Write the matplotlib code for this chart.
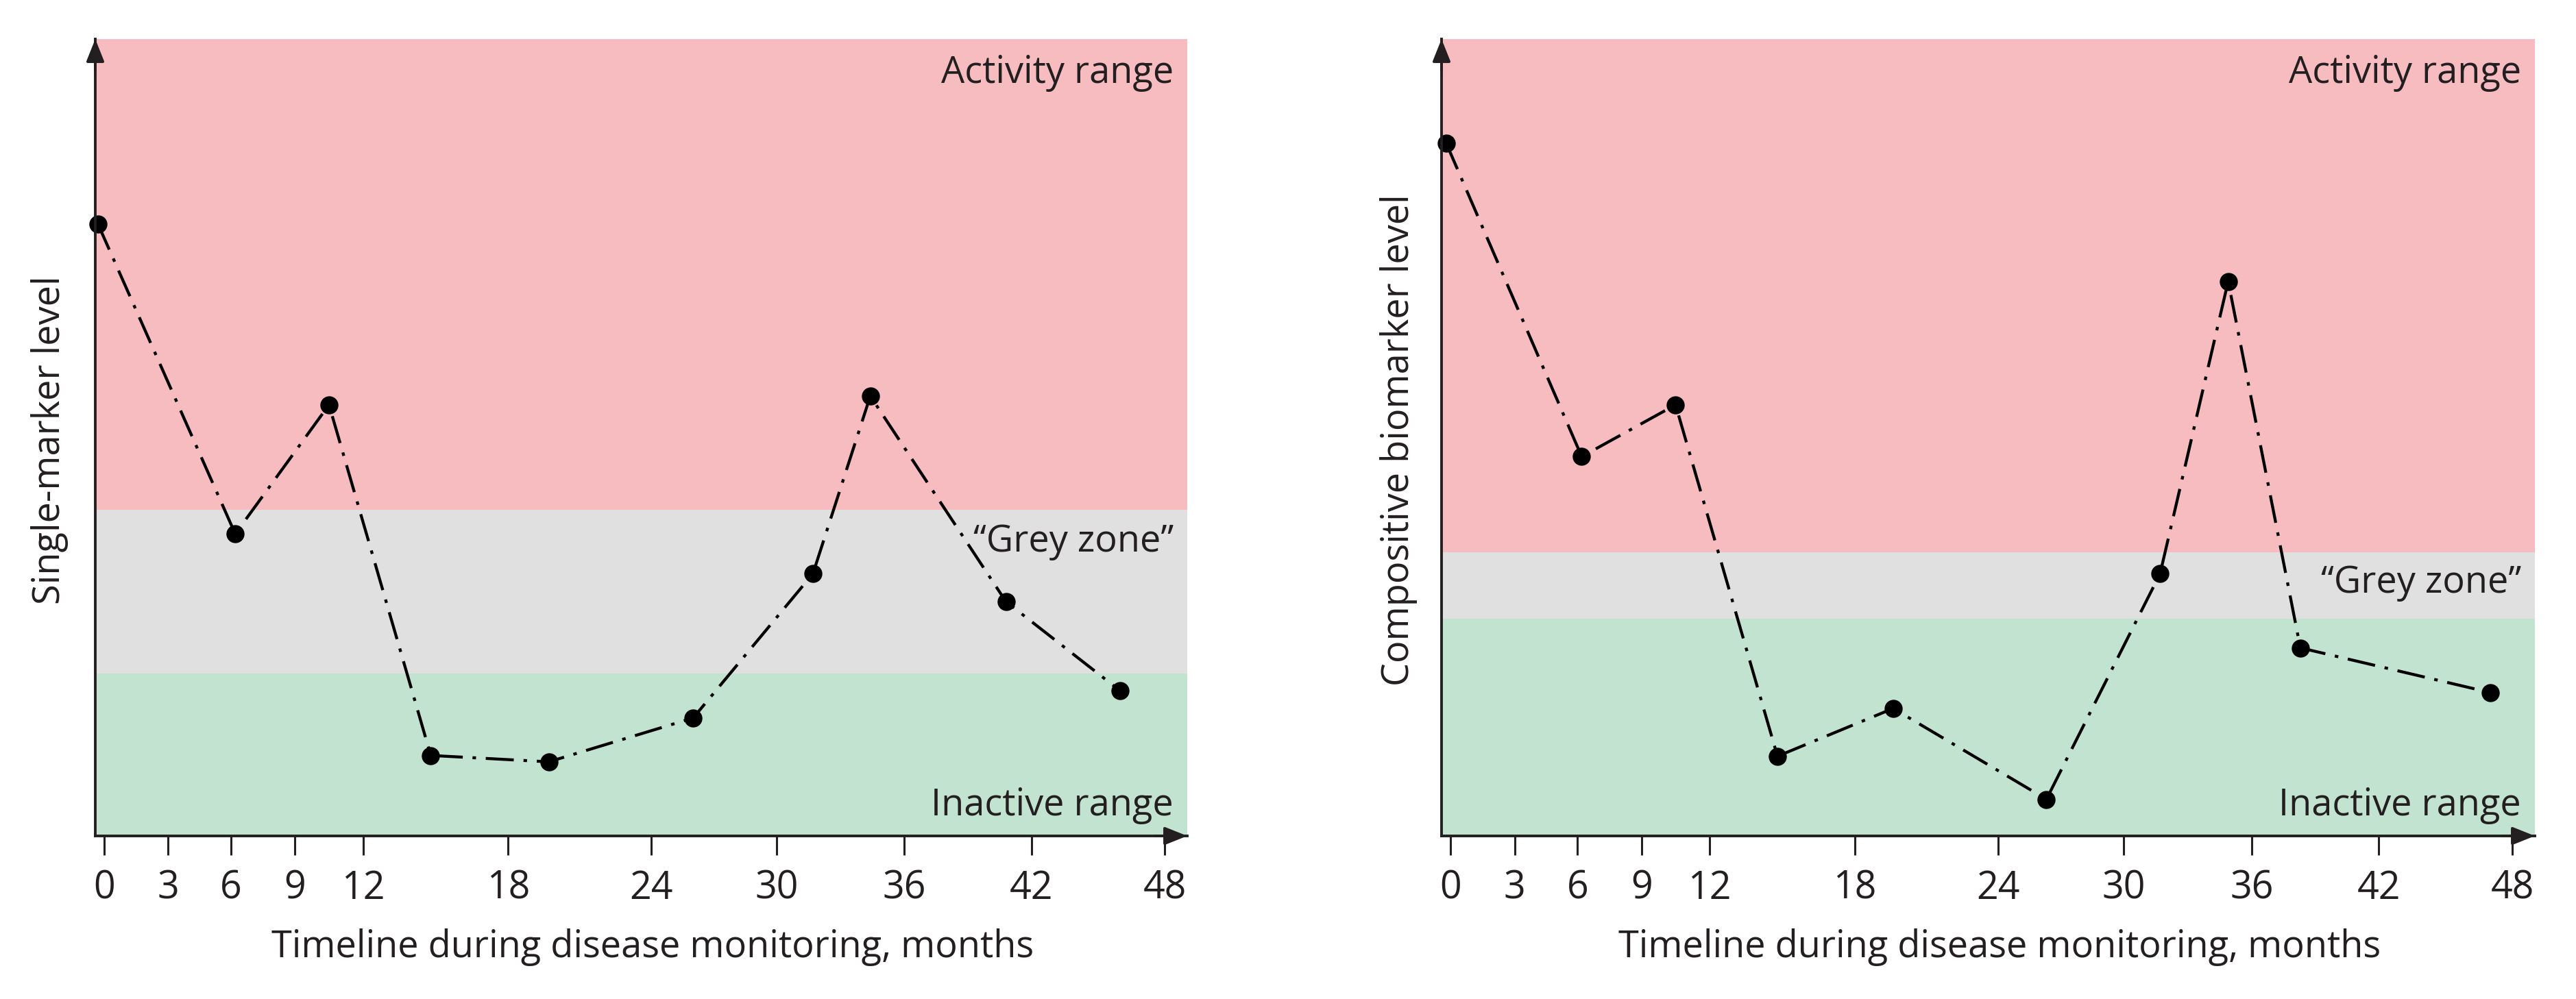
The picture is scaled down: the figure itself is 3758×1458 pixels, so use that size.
import numpy as np
import matplotlib
matplotlib.use("Agg")
import matplotlib.pyplot as plt

# ---------------- data ----------------
tick_months = [0, 3, 6, 9, 12, 18, 24, 30, 36, 42, 48]
tick_labels = ["0", "3", "6", "9", "12", "18", "24", "30", "36", "42", "48"]

months_single = [-0.3, 6.2, 10.5, 14.8, 19.7, 26.0, 31.7, 34.4, 40.8, 46.0]
level_single = [76.8, 37.9, 54.1, 10.1, 9.3, 14.8, 32.9, 55.2, 29.4, 18.2]

months_comp = [-0.2, 6.2, 10.5, 14.8, 19.6, 26.3, 31.7, 34.9, 38.3, 47.0]
level_comp = [86.9, 47.6, 54.1, 10.0, 16.0, 4.6, 32.9, 69.6, 23.6, 18.0]

# zone limits (level units, 0..100)
zones_single = [0, 20.4, 40.9, 100]
zones_comp = [0, 27.3, 35.6, 100]

ylabels = ["Single-marker level", "Compositive biomarker level"]
xlabel = "Timeline during disease monitoring, months"
zone_texts = ["Activity range", "\u201cGrey zone\u201d", "Inactive range"]

# ---------------- style ----------------
FONT = ["Open Sans", "DejaVu Sans"]
plt.rcParams["font.family"] = FONT
TXT = "#231f20"
C_RED = "#f7bcc0"
C_GREY = "#e0e0e1"
C_GREEN = "#c3e3d1"

# non-uniform month axis of the original drawing (piecewise linear)
_bp_m = np.array([-3, 0, 3, 6, 9, 12, 18, 24, 30, 36, 42, 48, 54], dtype=float)
_bp_u = np.array([-78, 0, 78, 154.5, 232.5, 315.5, 492.5, 667, 820, 975.5, 1130.5, 1293, 1455.5])


def fwd(x):
    return np.interp(x, _bp_m, _bp_u)


def inv(u):
    return np.interp(u, _bp_u, _bp_m)


W, H = 3758, 1458
fig = plt.figure(figsize=(W / 100, H / 100), dpi=100)

ax_rects = [
    [139 / W, 1 - 1220 / H, (1732 - 139) / W, (1220 - 57) / H],
    [2103 / W, 1 - 1220 / H, (3698 - 2103) / W, (1220 - 57) / H],
]
datasets = [(months_single, level_single, zones_single),
            (months_comp, level_comp, zones_comp)]
grey_y = [35.7, 30.5]
ylab_x = [73 / W, 2041 / W]
xlab_x = [952 / W, 2917 / W]

for i, (rect, (mx, lv, zn)) in enumerate(zip(ax_rects, datasets)):
    ax = fig.add_axes(rect)
    ax.set_xscale("function", functions=(fwd, inv))
    ax.set_xlim(inv(-11), inv(1320.5))
    ax.set_ylim(0, 100)

    # zones
    for (lo, hi), c in zip(zip(zn[:-1], zn[1:]), [C_GREEN, C_GREY, C_RED]):
        ax.axhspan(lo, hi, color=c, lw=0, zorder=0)

    # series
    ax.plot(mx, lv, color="black", lw=3.1,
            linestyle=(0, (9.5, 3.3, 1.2, 3.3)),
            marker="o", markersize=18, markerfacecolor="black",
            markeredgecolor="black", clip_on=False, zorder=3)

    # spines
    for s in ["top", "right"]:
        ax.spines[s].set_visible(False)
    for s in ["left", "bottom"]:
        ax.spines[s].set_color(TXT)
        ax.spines[s].set_linewidth(2.8)
        ax.spines[s].set_zorder(4)

    ax.set_yticks([])
    ax.set_xticks(tick_months)
    ax.set_xticklabels(tick_labels)
    ax.tick_params(axis="x", length=20, width=2.2, color=TXT, pad=15,
                   labelsize=40, labelcolor=TXT)
    ax.xaxis.set_minor_locator(matplotlib.ticker.NullLocator())

    # arrow heads
    ax.annotate("", xy=(0, 1.0), xytext=(0, 0.96), xycoords="axes fraction",
                arrowprops=dict(arrowstyle="-|>,head_length=0.5,head_width=0.2",
                                mutation_scale=40, color=TXT, lw=2.8,
                                shrinkA=0, shrinkB=0), annotation_clip=False)
    ax.annotate("", xy=(1.0, 0), xytext=(0.97, 0), xycoords="axes fraction",
                arrowprops=dict(arrowstyle="-|>,head_length=0.5,head_width=0.2",
                                mutation_scale=40, color=TXT, lw=2.8,
                                shrinkA=0, shrinkB=0), annotation_clip=False)

    # zone labels
    xr = 1 - 20 / (rect[2] * W)
    ax.text(xr, 94.5, zone_texts[0], transform=ax.get_yaxis_transform(),
            ha="right", va="baseline", fontsize=39, color=TXT)
    ax.text(xr, grey_y[i], zone_texts[1], transform=ax.get_yaxis_transform(),
            ha="right", va="baseline", fontsize=39, color=TXT)
    ax.text(xr, 2.6, zone_texts[2], transform=ax.get_yaxis_transform(),
            ha="right", va="baseline", fontsize=39, color=TXT)

    fig.text(ylab_x[i], 1 - 642 / H, ylabels[i], rotation=90, ha="center",
             va="center", fontsize=39, color=TXT)
    fig.text(xlab_x[i], 1 - 1397 / H, xlabel, ha="center", va="baseline",
             fontsize=39, color=TXT)

fig.savefig("out.png", dpi=100, facecolor="white")
